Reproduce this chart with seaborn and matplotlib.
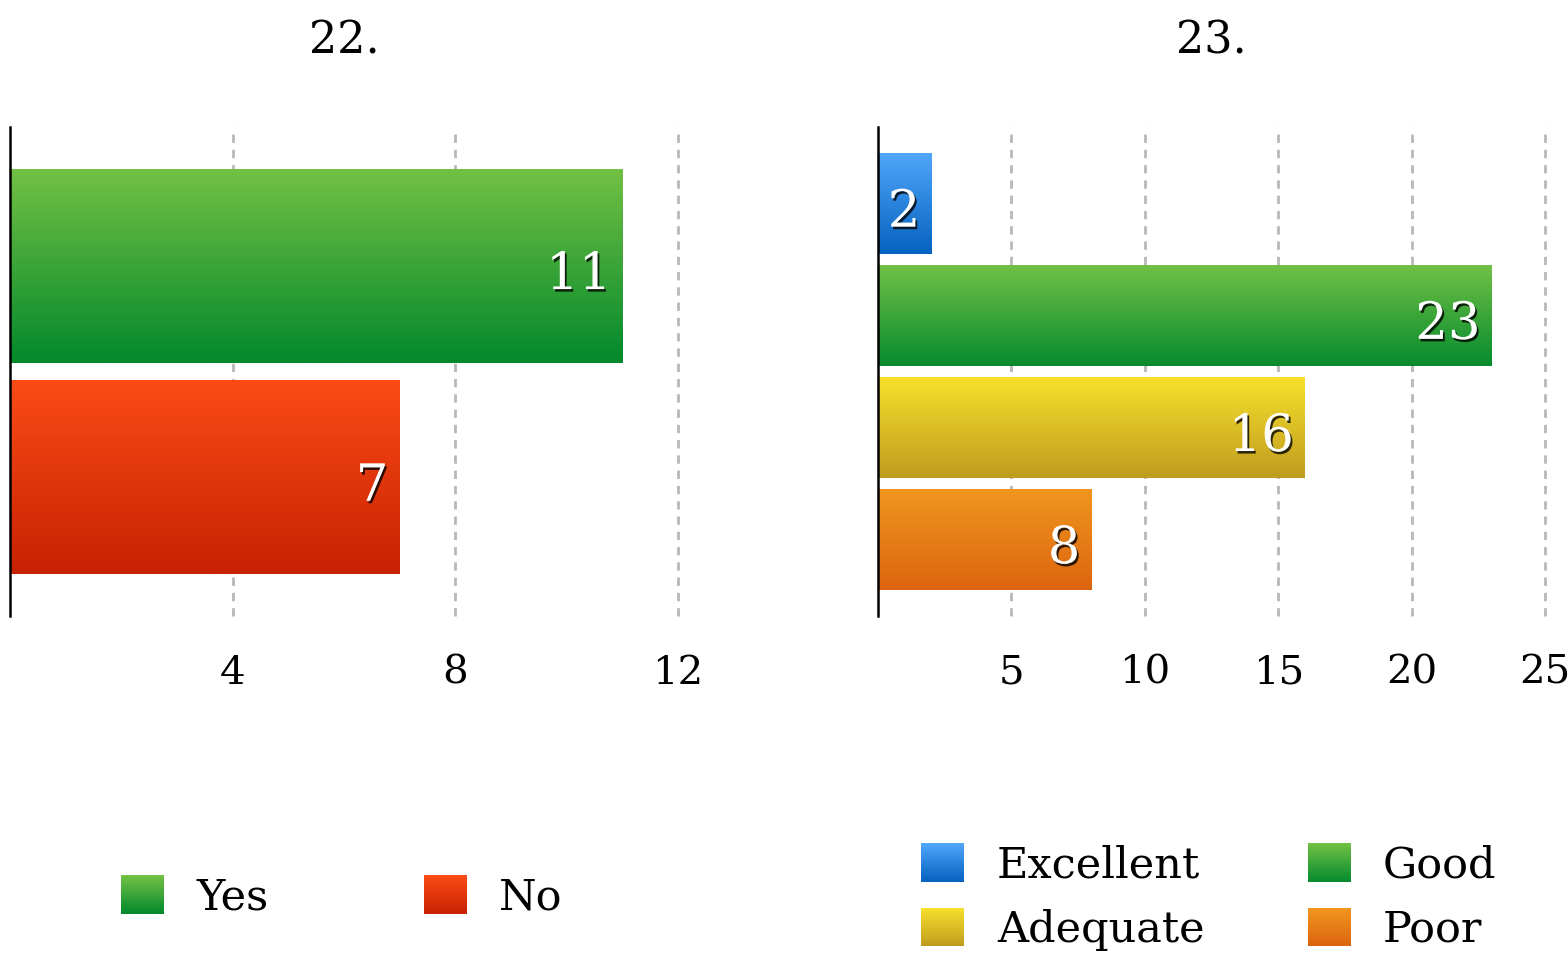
import numpy as np
import pandas as pd
import matplotlib
matplotlib.use('Agg')
import matplotlib.pyplot as plt
import matplotlib.colors as mcolors
import matplotlib.patheffects as pe
from matplotlib.patches import Rectangle
from matplotlib.legend_handler import HandlerBase
import seaborn as sns

# question 22
q22_answers = ['Yes', 'No']
q22_counts = [11, 7]
q22_top = ['#72c044', '#fb4b15']
q22_bottom = ['#03892c', '#c82204']
q22_ticks = [4, 8, 12]

# question 23
q23_answers = ['Excellent', 'Good', 'Adequate', 'Poor']
q23_counts = [2, 23, 16, 8]
q23_top = ['#50a6f9', '#70c044', '#f8e02c', '#f0961e']
q23_bottom = ['#0562c0', '#068b2e', '#c09c1e', '#dc640f']
q23_ticks = [5, 10, 15, 20, 25]

sns.set_theme(style='white')
plt.rcParams['font.family'] = ['DejaVu Serif']
plt.rcParams['text.color'] = 'black'


def gradient(top, bottom, n=128):
    c0 = np.array(mcolors.to_rgb(top))
    c1 = np.array(mcolors.to_rgb(bottom))
    t = np.linspace(0, 1, n)[:, None]
    return (c0 * (1 - t) + c1 * t)[:, None, :]


class GradPatch(Rectangle):
    def __init__(self, top, bottom):
        super().__init__((0, 0), 1, 1)
        self.top = top
        self.bottom = bottom


class GradientHandler(HandlerBase):
    def create_artists(self, legend, orig_handle, xdescent, ydescent,
                       width, height, fontsize, trans):
        n = 40
        cols = gradient(orig_handle.top, orig_handle.bottom, n)[:, 0, :]
        artists = []
        for i in range(n):
            y = -ydescent + height * (1 - (i + 1) / n)
            r = Rectangle((-xdescent, y), width, height / n * 1.1,
                          facecolor=cols[i], edgecolor='none', transform=trans)
            artists.append(r)
        return artists


def draw_panel(ax, title, answers, counts, tops, bottoms, ticks, xmax, width, ypad):
    df = pd.DataFrame({'answer': answers, 'count': counts})
    sns.barplot(data=df, x='count', y='answer', hue='answer', palette=tops,
                legend=False, orient='h', width=width, ax=ax, zorder=2)
    for p, top, bot, v in zip(ax.patches, tops, bottoms, counts):
        x0, y0, x1, y1 = p.get_bbox().extents
        ax.imshow(gradient(top, bot), extent=(x0, x1, y1, y0), origin='upper',
                  aspect='auto', interpolation='bilinear', zorder=2)
        p.set_facecolor('none')
        p.set_edgecolor('none')
        ax.annotate(str(v), xy=(x1, (y0 + y1) / 2), xytext=(-8, -7),
                    textcoords='offset points', ha='right', va='center',
                    color='white', fontsize=37, zorder=5,
                    path_effects=[pe.withSimplePatchShadow(offset=(1.3, -1.8),
                                                          shadow_rgbFace='black',
                                                          alpha=0.8)])
    n = len(answers)
    ax.set_xlim(0, xmax)
    ax.set_ylim(n - 1 + ypad, -ypad)
    ax.set_xticks(ticks)
    ax.set_yticks([])
    ax.set_xlabel('')
    ax.set_ylabel('')
    ax.tick_params(axis='x', length=0, pad=28, labelsize=29, labelcolor='black')
    ax.grid(axis='x', color='#b8b8b8', linestyle=(0, (3, 2.5)), linewidth=2)
    for gl in ax.xaxis.get_gridlines():
        gl.set_clip_on(False)
    ax.set_axisbelow(True)
    for s in ['top', 'right', 'bottom']:
        ax.spines[s].set_visible(False)
    ax.spines['left'].set_color('black')
    ax.spines['left'].set_linewidth(1.8)
    ax.spines['left'].set_zorder(6)
    ax.set_title(title, fontsize=32, pad=53, color='black')


fig = plt.figure(figsize=(15.68, 9.57), dpi=100)
ax1 = fig.add_axes([10 / 1568, 1 - 616 / 957, 668 / 1568, 489 / 957])
ax2 = fig.add_axes([878 / 1568, 1 - 616 / 957, 667 / 1568, 489 / 957])

draw_panel(ax1, '22.', q22_answers, q22_counts, q22_top, q22_bottom, q22_ticks, 12, 0.915, 0.655)
draw_panel(ax2, '23.', q23_answers, q23_counts, q23_top, q23_bottom, q23_ticks, 25, 0.9, 0.68)

h1 = [GradPatch(t, b) for t, b in zip(q22_top, q22_bottom)]
fig.legend(h1, q22_answers, handler_map={GradPatch: GradientHandler()},
           loc='center', bbox_to_anchor=(342 / 1568, 1 - 897 / 957),
           bbox_transform=fig.transFigure, ncol=2, frameon=False, fontsize=31,
           handlelength=1.0, handleheight=1.0, handletextpad=0.75,
           columnspacing=3.6, labelcolor='black')

# column-wise fill: Excellent/Good on first row, Adequate/Poor on second
order = [0, 2, 1, 3]
h2 = [GradPatch(q23_top[i], q23_bottom[i]) for i in order]
fig.legend(h2, [q23_answers[i] for i in order], handler_map={GradPatch: GradientHandler()},
           loc='center', bbox_to_anchor=(1209 / 1568, 1 - 897 / 957),
           bbox_transform=fig.transFigure, ncol=2, frameon=False, fontsize=31,
           handlelength=1.0, handleheight=1.0, handletextpad=0.75,
           columnspacing=2.4, labelspacing=0.5, labelcolor='black')

fig.savefig('out.png', dpi=100)
